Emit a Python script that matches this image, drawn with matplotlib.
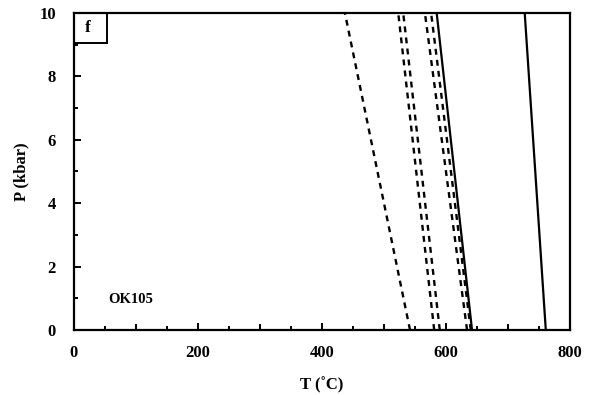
import matplotlib

matplotlib.use("Agg")
import matplotlib.pyplot as plt
from matplotlib.patches import Rectangle
from matplotlib.ticker import MultipleLocator

plt.rcParams["font.family"] = ["Liberation Serif", "DejaVu Serif"]

# end-member reaction lines: T (degC) at P = 0 and P = 10 kbar
pressure = [0, 10]
dashed_t_low = [542, 581, 590, 634, 640]
dashed_t_high = [437, 523, 531, 566, 576]
solid_t_low = [642, 761]
solid_t_high = [585, 727]

x_ticks = [0, 200, 400, 600, 800]
y_ticks = [0, 2, 4, 6, 8, 10]
panel_label = "f"
sample_name = "OK105"

fig = plt.figure(figsize=(5.89, 3.95), dpi=100)
ax = fig.add_axes([0.1256, 0.1646, 0.8421, 0.8025])

for t0, t10 in zip(dashed_t_low, dashed_t_high):
    ax.plot([t0, t10], pressure, color="black", lw=1.7, ls=(0, (2.5, 2.2)))
for t0, t10 in zip(solid_t_low, solid_t_high):
    ax.plot([t0, t10], pressure, color="black", lw=1.6)

ax.set_xlim(0, 800)
ax.set_ylim(0, 10)
ax.set_xticks(x_ticks)
ax.set_yticks(y_ticks)
ax.xaxis.set_minor_locator(MultipleLocator(50))
ax.yaxis.set_minor_locator(MultipleLocator(1))
ax.tick_params(which="both", direction="in", top=False, right=False,
               width=1.4, labelsize=12)
ax.tick_params(axis="x", which="major", pad=11)
ax.tick_params(axis="y", which="major", pad=13)
ax.tick_params(which="major", length=5)
ax.tick_params(which="minor", length=3)
# unlabelled 100-degree ticks are as long as the labelled ones
for t in range(100, 800, 200):
    ax.plot([t, t], [0, 0.16], color="black", lw=1.4, clip_on=False)
for lbl in ax.get_xticklabels() + ax.get_yticklabels():
    lbl.set_fontweight("bold")
for spine in ax.spines.values():
    spine.set_linewidth(1.6)

ax.set_xlabel("T (\u02daC)", fontsize=12, fontweight="bold", labelpad=11)
ax.set_ylabel("P (kbar)", fontsize=12, fontweight="bold", labelpad=7)

ax.add_patch(Rectangle((0, 9.05), 53, 0.95, fill=False, ec="black", lw=1.4,
                       clip_on=False))
ax.text(22, 9.52, panel_label, ha="center", va="center", fontsize=12.5,
        fontweight="bold")
ax.text(55, 0.95, sample_name, ha="left", va="center", fontsize=10.5,
        fontweight="bold")

fig.savefig("out.png", dpi=100)
